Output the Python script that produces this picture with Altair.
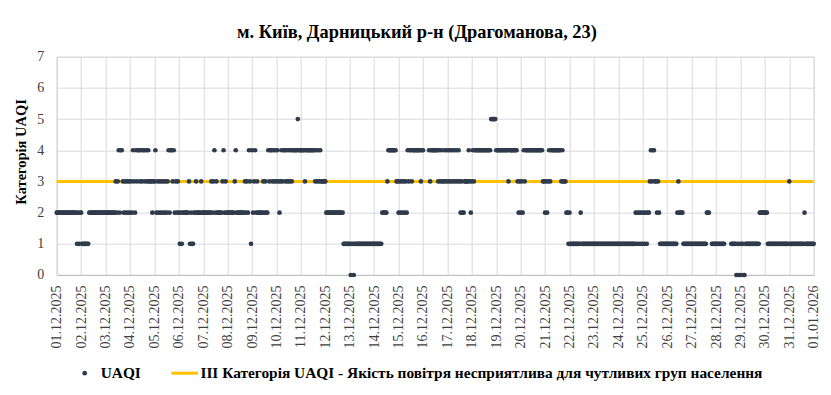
import altair as alt
import pandas as pd

TITLE = "м. Київ, Дарницький р-н (Драгоманова, 23)"
Y_TITLE = "Категорія UAQI"
SERIES_NAME = "UAQI"
THRESHOLD_NAME = "III Категорія UAQI - Якість повітря несприятлива для чутливих груп населення"
THRESHOLD_VALUE = [3]
Y_TICKS = [0, 1, 2, 3, 4, 5, 6, 7]

DAY_LABELS = [
    "01.12.2025", "02.12.2025", "03.12.2025", "04.12.2025", "05.12.2025",
    "06.12.2025", "07.12.2025", "08.12.2025", "09.12.2025", "10.12.2025",
    "11.12.2025", "12.12.2025", "13.12.2025", "14.12.2025", "15.12.2025",
    "16.12.2025", "17.12.2025", "18.12.2025", "19.12.2025", "20.12.2025",
    "21.12.2025", "22.12.2025", "23.12.2025", "24.12.2025", "25.12.2025",
    "26.12.2025", "27.12.2025", "28.12.2025", "29.12.2025", "30.12.2025",
    "31.12.2025", "01.01.2026",
]

# Hourly UAQI category, one string of 24 hours per day ('.' = no data)
HOURLY_BY_DAY = [
    "2222222222 2222222222 1212",
    "2 1111111 2222222222 222222",
    "2222222222 3234244323 2323",
    "232432 4344343443 434 333 23",
    "3423232323 2323424434 2323",
    "2121 222222 3 1211 22 3 2222 3 2",
    "22222222 323423 22222 34232",
    "2222222 34 22222222 32324 3 1",
    "423423 22222 32322 43443434",
    "34323 4344343434 34 4444 5 44",
    "4444 3 444444444 3434343333",
    "3 2222222222 2222222 111111",
    "1 0 11 0 1111111111 111111111",
    "11111111 22222 3 44444444 33",
    "232323232 434 43 44444444 34",
    "4 ..... 4 3 4444444 34343 343 4",
    "3434343434 343 2322 3333 4 3 2",
    "3434 4444444444 44444 55555",
    "4444444444 44 3 44444444 323",
    "23243 4 4444444444 44444 433",
    "2323 4 3 4444444444 34333 22 1",
    "2 1111111111 2 1111111111 11",
    "1111111111 1111111111 1111",
    "1111111111 1111111 2121212",
    "1212122 34344332 32 1111111",
    "1111111111 232222 11111111",
    "1111111111 11111 222 .. 1111",
    "111111111 ...... 11111 0101",
    "0 11 00 1111111111 1111 22222",
    "222 1111111111 1111111111 1",
    "3 1111111111 1111 2 11111111",
]
LAST_HOUR = "1"  # 01.01.2026 00:00

DOT_COLOR = "#2F3B4C"
LINE_COLOR = "#FFC000"
FONT = "Liberation Serif"

codes = []
for day in HOURLY_BY_DAY:
    s = day.replace(" ", "")
    assert len(s) == 24, (day, len(s))
    codes.extend(s)
codes.extend(LAST_HOUR)

times = pd.date_range("2025-12-01 00:00", periods=len(codes), freq="h", tz="UTC")
df = pd.DataFrame({"time": times.strftime("%Y-%m-%dT%H:%M:%SZ"), "code": codes})
df = df[df["code"] != "."].copy()
df["uaqi"] = df["code"].astype(int)
df = df[["time", "uaqi"]]


def to_dt(label):
    d, m, y = label.split(".")
    return alt.DateTime(year=int(y), month=int(m), date=int(d), utc=True)


tick_values = [to_dt(s) for s in DAY_LABELS]
x_scale = alt.Scale(type="utc", domain=[tick_values[0], tick_values[-1]], nice=False)
y_scale = alt.Scale(domain=[Y_TICKS[0], Y_TICKS[-1]], nice=False)

x_axis = alt.Axis(
    values=tick_values,
    labelExpr="utcFormat(datum.value, '%d.%m.%Y')",
    labelAngle=270,
    labelFont=FONT,
    labelFontSize=14,
    labelColor="#404040",
    labelPadding=10,
    ticks=False,
    grid=True,
    gridColor="#D9D9D9",
    domainColor="#BFBFBF",
    title=None,
)
y_axis = alt.Axis(
    values=Y_TICKS,
    labelFont=FONT,
    labelFontSize=14,
    labelColor="#404040",
    labelPadding=13,
    ticks=False,
    grid=True,
    gridColor="#D9D9D9",
    domainColor="#D9D9D9",
    title=Y_TITLE,
    titleFont=FONT,
    titleFontSize=14.5,
    titleFontWeight="bold",
    titleColor="black",
    titleAngle=270,
    titleAlign="center",
    titleBaseline="middle",
    titleX=-35.5,
    titleY=94.7,
)

threshold = alt.Chart(pd.DataFrame({"v": THRESHOLD_VALUE})).mark_rule(
    color=LINE_COLOR, strokeWidth=3
).encode(
    y=alt.Y("v:Q", scale=y_scale, axis=y_axis, title=Y_TITLE)
)

points = alt.Chart(df).mark_circle(size=22, color=DOT_COLOR, opacity=1).encode(
    x=alt.X("time:T", scale=x_scale, axis=x_axis),
    y=alt.Y("uaqi:Q", scale=y_scale, axis=y_axis, title=Y_TITLE),
)

leg_dot = alt.Chart(pd.DataFrame({"label": [SERIES_NAME]})).mark_circle(
    size=22, color=DOT_COLOR, opacity=1
).encode(x=alt.value(28), y=alt.value(316.5))

leg_text1 = alt.Chart(pd.DataFrame({"label": [SERIES_NAME]})).mark_text(
    align="left", baseline="alphabetic", font=FONT, fontSize=15.4, fontWeight="bold", color="black"
).encode(x=alt.value(44), y=alt.value(321.5), text="label:N")

leg_line = alt.Chart(pd.DataFrame({"label": [THRESHOLD_NAME]})).mark_rule(
    color=LINE_COLOR, strokeWidth=3
).encode(x=alt.value(114.7), x2=alt.value(141.3), y=alt.value(316.5))

leg_text2 = alt.Chart(pd.DataFrame({"label": [THRESHOLD_NAME]})).mark_text(
    align="left", baseline="alphabetic", font=FONT, fontSize=15.4, fontWeight="bold", color="black"
).encode(x=alt.value(143.7), y=alt.value(321.5), text="label:N")

chart = alt.layer(threshold, points, leg_dot, leg_text1, leg_line, leg_text2).properties(
    width=757,
    height=218.3,
    title=alt.TitleParams(
        TITLE, font=FONT, fontSize=18.4, fontWeight="bold", color="black",
        anchor="middle", frame="bounds", baseline="alphabetic", offset=10, dy=17,
    ),
    autosize=alt.AutoSizeParams(type="none"),
    padding={"left": 48.7, "top": 48.7, "right": 9, "bottom": 107},
).configure_view(strokeWidth=0).configure(background="white", font=FONT).configure_axis(
    labelFont=FONT, titleFont=FONT
)

chart.save("out.html", embed_options={"renderer": "svg", "actions": False})
